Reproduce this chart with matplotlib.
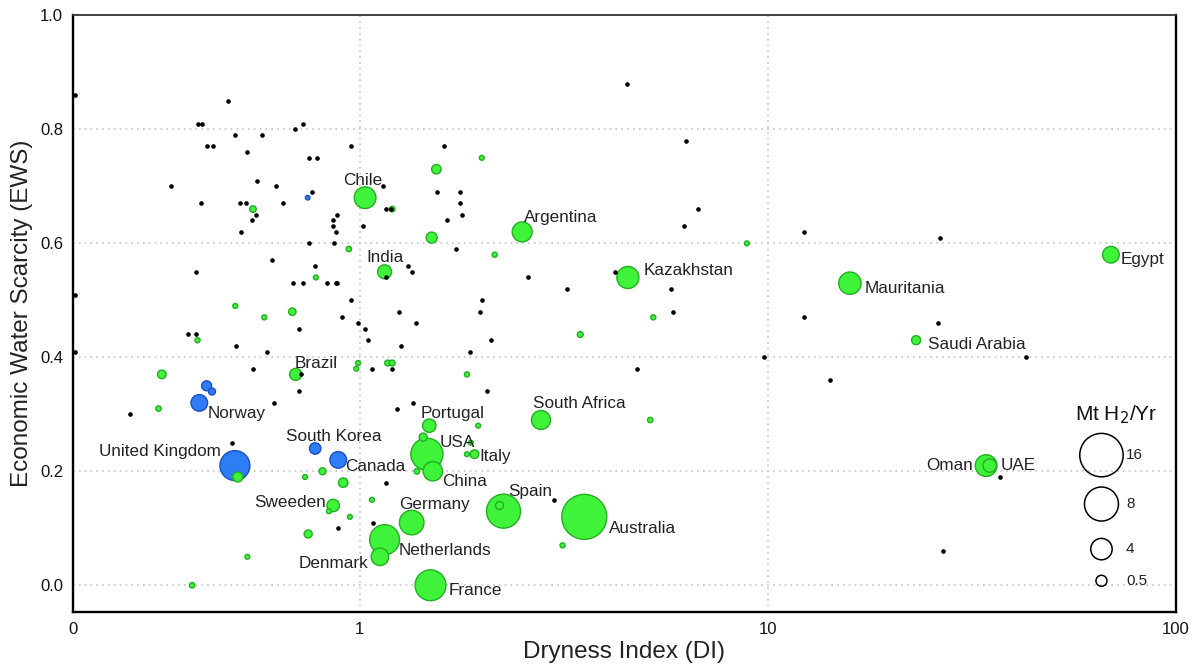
import numpy as np
import matplotlib
matplotlib.use("Agg")
from matplotlib import pyplot as plt

plt.rcParams['font.family'] = ['Liberation Sans', 'DejaVu Sans']

# black dots: countries without a hydrogen estimate (DI, EWS)
black_di = [0.20, 0.475, 0.40, 0.41, 0.726, 0.695, 0.493, 0.576, 0.421, 0.436, 0.95, 0.53,
            0.75, 0.786, 0.561, 0.345, 0.622, 1.14, 0.765, 0.407, 0.508, 0.527, 0.649, 0.545,
            0.557, 0.51, 0.857, 0.857, 0.875, 0.881, 1.02, 0.75, 0.865, 1.16, 1.19, 1.16,
            0.61, 0.776, 0.686, 0.726, 0.833, 0.873, 0.879, 0.95, 0.20, 0.905, 0.99, 0.709,
            1.03, 0.379, 0.396, 1.05, 1.25, 0.397,
            4.52, 6.29, 1.61, 1.55, 1.76, 1.76, 1.78, 6.73, 1.64, 6.25, 1.72, 1.31, 1.34,
            2.58, 4.21, 3.22, 5.80, 1.97, 1.99, 5.87, 1.37, 2.10,
            12.3, 26.5, 12.3, 26.1, 42.9, 14.2, 37.0, 26.9,
            1.26, 1.86, 9.8, 4.77, 1.20, 2.05, 1.23, 1.35, 1.16, 2.99, 1.07,
            0.20, 0.498, 0.593, 0.547, 0.716, 0.71, 0.615, 0.273, 0.486, 1.08, 0.885]
black_ews = [0.86, 0.85, 0.81, 0.81, 0.81, 0.80, 0.79, 0.79, 0.77, 0.77, 0.77, 0.76,
             0.75, 0.75, 0.71, 0.70, 0.70, 0.70, 0.69, 0.67, 0.67, 0.67, 0.67, 0.64,
             0.65, 0.62, 0.64, 0.63, 0.62, 0.65, 0.63, 0.60, 0.60, 0.66, 0.66, 0.54,
             0.57, 0.56, 0.53, 0.53, 0.53, 0.53, 0.53, 0.50, 0.51, 0.47, 0.46, 0.45,
             0.45, 0.44, 0.44, 0.43, 0.48, 0.55,
             0.88, 0.78, 0.77, 0.69, 0.69, 0.67, 0.65, 0.66, 0.64, 0.63, 0.59, 0.56, 0.55,
             0.54, 0.55, 0.52, 0.52, 0.48, 0.50, 0.48, 0.46, 0.43,
             0.62, 0.61, 0.47, 0.46, 0.40, 0.36, 0.19, 0.06,
             0.42, 0.41, 0.40, 0.38, 0.38, 0.34, 0.31, 0.32, 0.18, 0.15, 0.38,
             0.41, 0.42, 0.41, 0.38, 0.37, 0.34, 0.32, 0.30, 0.25, 0.11, 0.10]

# labelled countries
country = ['Chile', 'India', 'Argentina', 'Kazakhstan', 'Egypt', 'Mauritania', 'Saudi Arabia',
           'Oman', 'UAE', 'Brazil', 'Portugal', 'South Africa', 'USA', 'Italy', 'China',
           'Spain', 'Australia', 'Germany', 'Netherlands', 'Denmark', 'France', 'Sweeden',
           'United Kingdom', 'Norway', 'South Korea', 'Canada']
country_di = [1.03, 1.15, 2.50, 4.54, 69.4, 15.9, 23.1, 34.3, 35.0, 0.696, 1.48, 2.78, 1.46,
              1.91, 1.51, 2.25, 3.55, 1.34, 1.15, 1.12, 1.49, 0.86, 0.494, 0.404, 0.777, 0.885]
country_ews = [0.68, 0.55, 0.62, 0.54, 0.58, 0.53, 0.43, 0.21, 0.21, 0.37, 0.28, 0.29, 0.23,
               0.23, 0.20, 0.13, 0.12, 0.11, 0.08, 0.05, 0.0, 0.14, 0.21, 0.32, 0.24, 0.22]
country_h2 = [4.1, 1.5, 3.5, 4.2, 2.4, 4.3, 0.35, 4.1, 1.3, 0.84, 1.3, 3.2, 7.4,
              0.32, 3.3, 8.0, 17.4, 5.0, 6.7, 2.7, 7.0, 1.0, 6.7, 2.4, 0.63, 2.4]
country_group = ['g'] * 22 + ['b'] * 4

# unlabelled green (importers/exporters) and blue points
green_di = [1.20, 0.547, 0.94, 0.78, 0.495, 0.683, 0.583, 0.40, 1.54, 1.99, 8.89, 1.50, 2.14,
            5.24, 3.47, 1.17, 1.20, 0.99, 0.98, 1.83, 1.95, 5.15, 1.43, 1.87, 1.83, 1.38,
            3.14, 2.20, 0.327, 0.321, 0.734, 0.81, 0.91, 0.84, 0.945, 1.07, 0.747, 0.53,
            0.388, 0.502]
green_ews = [0.66, 0.66, 0.59, 0.54, 0.49, 0.48, 0.47, 0.43, 0.73, 0.75, 0.60, 0.61, 0.58,
             0.47, 0.44, 0.39, 0.39, 0.39, 0.38, 0.37, 0.28, 0.29, 0.26, 0.25, 0.23, 0.20,
             0.07, 0.14, 0.37, 0.31, 0.19, 0.20, 0.18, 0.13, 0.12, 0.15, 0.09, 0.05,
             0.0, 0.19]
green_h2 = [0.08, 0.15, 0.06, 0.02, 0.03, 0.22, 0.03, 0.04, 0.38, 0.02, 0.02, 0.5, 0.04,
            0.04, 0.1, 0.1, 0.1, 0.02, 0.02, 0.04, 0.02, 0.06, 0.27, 0.02, 0.02, 0.08,
            0.04, 0.27, 0.31, 0.06, 0.02, 0.19, 0.38, 0.02, 0.02, 0.02, 0.27, 0.02,
            0.06, 0.42]
blue_di = [0.421, 0.434, 0.745]
blue_ews = [0.35, 0.34, 0.68]
blue_h2 = [0.42, 0.19, 0.0]

legend_h2 = [16, 8, 4, 0.5]

GREEN, GREEN_EDGE = '#3ff23a', '#20b020'
BLUE, BLUE_EDGE = '#2f7df5', '#1a4fc8'
DPI = 100


def marker_area(h2):
    # radius in pixels
    r = np.interp(h2, [0, 0.5, 4, 8, 16, 20], [2.3, 5.5, 10.7, 17, 21.7, 24])
    return (2 * r * 72.0 / DPI) ** 2


fig = plt.figure(figsize=(11.96, 6.66), dpi=DPI)
ax = fig.add_axes([0.061, 0.081, 0.922, 0.896])
ax.set_xscale('log')
ax.set_xlim(0.198, 100)
ax.set_ylim(-0.047, 1.0)

# gridlines
for gx in [1, 10]:
    ax.axvline(gx, color='#c4c4c4', lw=1.2, ls=(0, (1, 2.5)), zorder=0)
for gy in [0.0, 0.2, 0.4, 0.6, 0.8]:
    ax.axhline(gy, color='#c4c4c4', lw=1.2, ls=(0, (1, 2.5)), zorder=0)

# bubbles: merge labelled + unlabelled, big ones first so small ones sit on top
cdi = np.array(country_di)
cews = np.array(country_ews)
ch2 = np.array(country_h2)
cgrp = np.array(country_group)

all_di = np.concatenate([cdi, green_di, blue_di])
all_ews = np.concatenate([cews, green_ews, blue_ews])
all_h2 = np.concatenate([ch2, green_h2, blue_h2])
all_grp = np.concatenate([cgrp, ['g'] * len(green_di), ['b'] * len(blue_di)])

order = np.argsort(-all_h2, kind='stable')
fc = [GREEN if all_grp[i] == 'g' else BLUE for i in order]
ec = [GREEN_EDGE if all_grp[i] == 'g' else BLUE_EDGE for i in order]
ax.scatter(all_di[order], all_ews[order], s=marker_area(all_h2[order]),
           facecolors=fc, edgecolors=ec, linewidths=1.0, zorder=3)

ax.scatter(black_di, black_ews, s=11, color='black', linewidths=0, zorder=4)

# country labels: offsets in pixels (right, down)
label_pos = {
    'Chile': (-2, -17, 'center'), 'India': (-18, -14, 'left'),
    'Argentina': (2, -14, 'left'), 'Kazakhstan': (15.6, -7.4, 'left'),
    'Egypt': (10, 5, 'left'), 'Mauritania': (15, 5, 'left'),
    'Saudi Arabia': (11.7, 4, 'left'), 'Oman': (-13, 0, 'right'),
    'UAE': (10.7, 0, 'left'), 'Norway': (8, 11, 'left'),
    'United Kingdom': (-14, -14, 'right'), 'Brazil': (-0.7, -11, 'left'),
    'South Korea': (19, -11.6, 'center'), 'Canada': (7.4, 6.3, 'left'),
    'Sweeden': (-7, -3.3, 'right'), 'Denmark': (-12, 7, 'right'),
    'Netherlands': (14, 10.7, 'left'), 'France': (18.3, 5, 'left'),
    'Germany': (-12.3, -18, 'left'), 'Spain': (4.4, -20, 'left'),
    'Australia': (25, 12, 'left'), 'China': (9, 10.7, 'left'),
    'Italy': (4.7, 2, 'left'), 'USA': (12.6, -11.7, 'left'),
    'Portugal': (-9, -12.3, 'left'), 'South Africa': (-8.3, -16.7, 'left'),
}
for name, x, y in zip(country, country_di, country_ews):
    dx, dy, ha = label_pos[name]
    ax.annotate(name, (x, y), xytext=(dx * 0.72, -dy * 0.72), textcoords='offset points',
                ha=ha, va='center', fontsize=12.3, color='#222222', zorder=5)

# size key
key_y = [0.263, 0.181, 0.1055, 0.0524]
ax.scatter([0.9327] * 4, key_y, s=marker_area(np.array(legend_h2)), transform=ax.transAxes,
           facecolors='none', edgecolors='black', linewidths=1.1, zorder=5)
for v, ky in zip(legend_h2, key_y):
    ax.text(0.955, ky, '%g' % v, transform=ax.transAxes, ha='left', va='center',
            fontsize=11, color='#222222')
ax.text(0.9465, 0.33, 'Mt H$_2$/Yr', transform=ax.transAxes, ha='center', va='center',
        fontsize=15, color='#111111')

# axes styling
ax.set_xticks([0.198, 1, 10, 100])
ax.set_xticklabels(['0', '1', '10', '100'])
ax.xaxis.set_minor_locator(matplotlib.ticker.NullLocator())
ax.set_yticks([0.0, 0.2, 0.4, 0.6, 0.8, 1.0])
ax.set_yticklabels(['0.0', '0.2', '0.4', '0.6', '0.8', '1.0'])
ax.tick_params(axis='both', length=0, labelsize=12, colors='#111111')
ax.tick_params(axis='y', pad=7)
ax.tick_params(axis='x', pad=7)
ax.set_xlabel('Dryness Index (DI)', fontsize=17.5, color='#222222', labelpad=3)
ax.set_ylabel('Economic Water Scarcity (EWS)', fontsize=17.5, color='#222222', labelpad=5)

for side in ['left', 'bottom', 'right']:
    ax.spines[side].set_linewidth(1.7)
    ax.spines[side].set_color('black')
ax.spines['top'].set_linewidth(1.3)
ax.spines['top'].set_color('#333333')

plt.savefig('out.png', dpi=DPI)
